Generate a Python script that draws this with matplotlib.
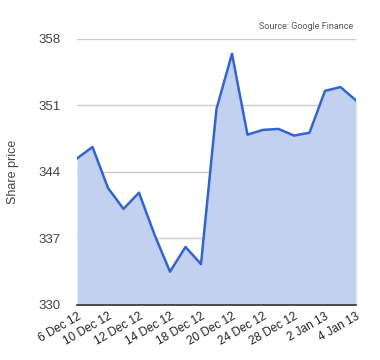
import matplotlib
matplotlib.use("Agg")
import matplotlib.pyplot as plt

prices = [345.4, 346.6, 342.3, 340.1, 341.8, 337.4, 333.5, 336.1, 334.3, 350.6,
          356.4, 347.9, 348.4, 348.5, 347.8, 348.1, 352.5, 352.9, 351.5]
tick_labels = ["6 Dec 12", "10 Dec 12", "12 Dec 12", "14 Dec 12", "18 Dec 12",
               "20 Dec 12", "24 Dec 12", "28 Dec 12", "2 Jan 13", "4 Jan 13"]
y_ticks = [330, 337, 344, 351, 358]

plt.rcParams['font.family'] = ['Liberation Sans', 'DejaVu Sans']

fig = plt.figure(figsize=(3.8, 3.6), dpi=100)
ax = fig.add_axes([0.2026, 0.1528, 0.7342, 0.7402])
x = list(range(len(prices)))
ax.fill_between(x, prices, 330, color='#c2d1ef', linewidth=0, zorder=2)
ax.plot(x, prices, color='#3366cc', linewidth=1.8, zorder=3)
ax.set_xlim(0, len(prices) - 1)
ax.set_ylim(330, 358)
ax.set_yticks(y_ticks)
ax.set_yticklabels([str(v) for v in y_ticks], fontsize=9.5, color='#444444')
ax.yaxis.grid(True, color='#cccccc', linewidth=1, zorder=1)
ax.set_axisbelow(True)
ax.set_xticks(x[::2])
ax.set_xticklabels(tick_labels, rotation=30, ha='right', rotation_mode='anchor',
                   fontsize=8.5, color='#222222')
ax.tick_params(axis='both', length=0, pad=4)
ax.tick_params(axis='y', pad=12)
for s in ['top', 'right', 'left']:
    ax.spines[s].set_visible(False)
ax.spines['bottom'].set_color('#333333')
ax.spines['bottom'].set_linewidth(1.2)
ax.spines['bottom'].set_zorder(4)
ax.set_ylabel("Share price", fontsize=9, color='#444444', labelpad=14)
fig.text(0.93, 0.915, "Source: Google Finance", ha='right', va='bottom',
         fontsize=6.5, color='#555555', family=['Roboto', 'DejaVu Sans'])
fig.savefig("out.png", dpi=100)
